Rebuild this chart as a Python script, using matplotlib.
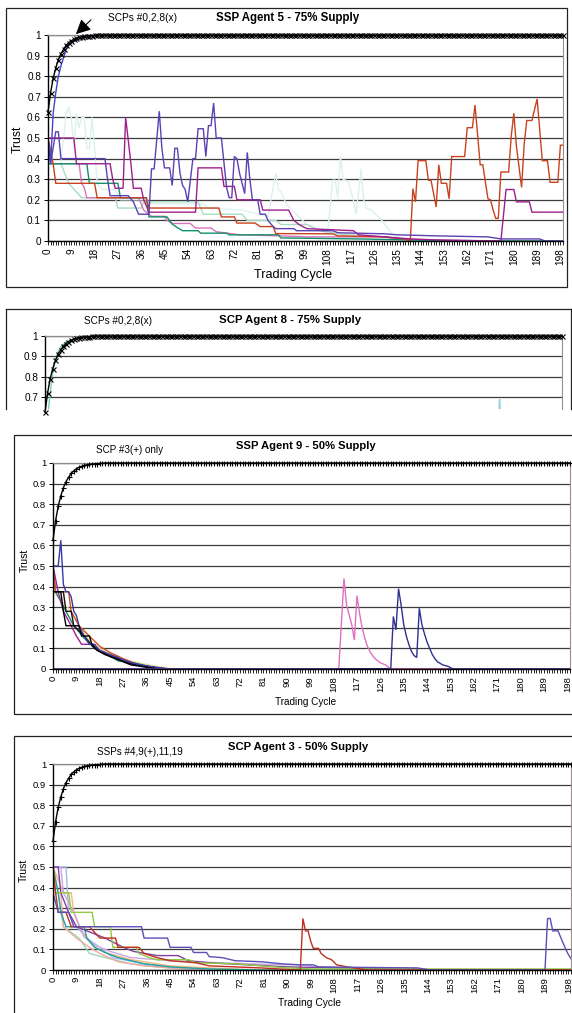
import numpy as np
import matplotlib
matplotlib.use("Agg")
import matplotlib.pyplot as plt
import matplotlib as mpl
from matplotlib.patches import Rectangle
from matplotlib.lines import Line2D
from matplotlib.ticker import MultipleLocator

mpl.rcParams['font.family'] = ['Liberation Sans', 'DejaVu Sans']

W, H = 572, 1013
N_CYCLES = 200
CYCLES = np.arange(N_CYCLES)

# trust curve of the SCPs / SSP that converge to 1 (first cycles, afterwards 1.0)
SCP_RISE = [0.625, 0.72, 0.79, 0.84, 0.88, 0.91, 0.93, 0.95, 0.962, 0.972,
            0.979, 0.984, 0.988, 0.991, 0.993, 0.995, 0.996, 0.997, 0.998, 0.999]
SCP_TRUST = SCP_RISE + [1.0] * (N_CYCLES - len(SCP_RISE))

##### Panel 1: SSP Agent 5 - 75% Supply  (cycle, trust)
P1_SPIKY = [(0, .5), (1, .375), (3, .53), (4, .53), (5, .4), (22, .4), (23, .3), (24, .22), (31, .22),
            (33, .19), (35, .13), (39, .13), (40, .35), (41, .35), (43, .63), (44, .45), (45, .355),
            (47, .355), (48, .27), (49, .45), (50, .45), (51, .33), (52, .27), (53, .25), (54, .19),
            (56, .4), (57, .4), (58, .545), (60, .545), (61, .41), (62, .56), (63, .56), (64, .67),
            (65, .5), (67, .5), (68, .38), (69, .26), (70, .21), (71, .21), (72, .41), (73, .4),
            (74, .33), (76, .23), (77, .43), (78, .3), (79, .2), (81, .2), (82, .13), (84, .13),
            (85, .1), (87, .07), (88, .06), (95, .06), (96, .05), (110, .05), (112, .04), (130, .035),
            (135, .03), (150, .025), (170, .02), (175, .01), (190, .01), (192, 0), (199, 0)]
P1_BLUE_RISE = [(0, .5), (1, .375), (2, .62), (3, .72), (4, .8), (5, .85), (6, .89), (7, .93),
                (8, .95), (9, .96), (10, .97), (12, .98), (15, .99), (20, 1.0), (199, 1.0)]
P1_MAGENTA = [(0, .5), (10, .5), (11, .375), (24, .375), (25, .3), (26, .256), (29, .256), (30, .6),
              (32, .38), (33, .256), (36, .256), (37, .2), (39, .14), (57, .14), (58, .355), (67, .355),
              (68, .265), (72, .265), (73, .2), (82, .2), (83, .15), (93, .15), (95, .1), (97, .08),
              (100, .06), (118, .05), (120, .03), (140, .01), (150, .005), (175, 0), (177, .25),
              (180, .25), (181, .19), (186, .19), (187, .14), (199, .14)]
P1_RED = [(0, .5), (2, .375), (3, .28), (18, .28), (19, .21), (38, .21), (39, .16), (66, .16), (67, .117),
          (72, .117), (73, .087), (80, .087), (82, .07), (87, .07), (88, .036), (110, .035), (112, .025),
          (130, .02), (138, .01), (140, 0), (141, .254), (142, .19), (143, .39), (146, .39), (147, .295),
          (148, .295), (150, .165), (151, .37), (152, .28), (154, .28), (155, .205), (156, .41),
          (161, .41), (162, .55), (164, .55), (165, .66), (167, .37), (168, .37), (170, .205), (171, .2),
          (172, .15), (173, .11), (174, .11), (175, .335), (178, .335), (179, .51), (180, .62),
          (181, .46), (183, .26), (184, .47), (185, .585), (187, .585), (189, .69), (191, .39),
          (193, .39), (194, .285), (197, .285), (198, .465), (199, .465)]
P1_GREEN = [(0, .375), (15, .375), (16, .28), (27, .28), (28, .21), (38, .21), (39, .117), (46, .117),
            (48, .082), (50, .065), (52, .05), (58, .05), (59, .038), (69, .038), (70, .03), (89, .03),
            (90, .015), (120, .01), (140, .005), (160, 0), (199, 0)]
P1_PINK = [(0, .375), (12, .375), (13, .28), (14, .26), (15, .21), (35, .21), (37, .15), (38, .14),
           (40, .12), (45, .12), (46, .1), (48, .085), (55, .085), (57, .063), (63, .063), (65, .045),
           (70, .037), (74, .03), (90, .025), (100, .02), (130, .02), (135, .01), (150, .005), (170, 0),
           (199, 0)]
P1_MINT = [(0, .375), (5, .375), (8, .28), (13, .21), (26, .21), (27, .16), (36, .16), (37, .19),
           (58, .19), (60, .13), (75, .13), (77, .1), (88, .1), (90, .08), (100, .08), (105, .05),
           (115, .03), (130, .02), (140, 0), (199, 0)]
P1_PALE = [(0, .375), (5, .375), (6, .5), (7, .62), (8, .65), (9, .6), (10, .45), (11, .62), (12, .55),
           (13, .6), (14, .6), (15, .45), (16, .45), (17, .6), (18, .45), (19, .28), (21, .25), (26, .25),
           (28, .2), (38, .2), (40, .18), (60, .18), (62, .16), (75, .15), (85, .12), (88, .33), (89, .25),
           (90, .24), (92, .18), (100, .08), (108, .035), (110, .295), (111, .295), (112, .21), (113, .415),
           (114, .3), (116, .29), (118, .2), (119, .13), (121, .35), (122, .2), (123, .16), (125, .15),
           (129, .1), (132, .05), (134, .025), (137, 0), (199, 0)]

##### Panel 2: SCP Agent 8 - 75% Supply (lower part cut off)
P2_TEAL = [(0, .5), (1, .6), (2, .72), (3, .82), (4, .88), (5, .92), (6, .945), (8, .97), (10, .98),
           (15, .995), (20, 1.0), (199, 1.0)]
P2_CYAN = [(173, 0), (175, .69), (177, 0)]

##### Panel 3: SSP Agent 9 - 50% Supply
P3_BLUE = [(0, .5), (2, .5), (3, .625), (4, .41), (5, .375), (6, .375), (7, .35), (8, .28), (9, .26),
           (10, .21), (12, .16), (14, .12), (16, .12), (18, .09), (20, .08), (24, .06), (28, .04),
           (32, .025), (36, .015), (40, .008), (45, 0), (199, 0)]
P3_BLACK_A = [(0, .375), (3, .375), (4, .28), (5, .21), (10, .21), (11, .16), (14, .16), (15, .12),
              (17, .09), (22, .06), (26, .04), (30, .02), (35, .01), (40, 0), (199, 0)]
P3_BLACK_B = [(0, .375), (4, .375), (5, .28), (7, .28), (8, .21), (12, .16), (16, .1), (20, .07),
              (25, .05), (30, .025), (38, .008), (42, 0), (199, 0)]
P3_RED = [(0, .5), (1, .375), (6, .375), (7, .28), (10, .21), (14, .16), (18, .11), (22, .08),
          (27, .05), (33, .02), (40, .005), (44, 0), (199, 0)]
P3_GREEN = [(0, .5), (1, .375), (5, .28), (8, .21), (12, .15), (16, .1), (20, .08), (25, .04),
            (31, .03), (38, .01), (42, 0), (199, 0)]
P3_PURPLE = [(0, .5), (2, .375), (4, .28), (7, .21), (9, .16), (11, .12), (15, .12), (19, .08),
             (24, .06), (29, .03), (35, .015), (44, 0), (199, 0)]
P3_YELLOW = [(0, .375), (7, .28), (10, .21), (15, .12), (21, .08), (29, .04), (37, .02), (46, 0),
             (199, 0)]
P3_PINK = [(0, 0), (110, 0), (112, .44), (113, .31), (115, .215), (116, .14), (117, .356), (118, .27),
           (119, .2), (120, .15), (121, .11), (122, .085), (123, .065), (124, .05), (126, .03),
           (128, .02), (130, 0), (199, 0)]
P3_NAVY = [(0, 0), (130, 0), (131, .255), (132, .19), (133, .39), (134, .31), (135, .215), (136, .16),
           (137, .118), (138, .085), (139, .065), (140, .056), (141, .295), (142, .215), (143, .17),
           (144, .13), (145, .1), (146, .07), (147, .05), (148, .035), (150, .02), (152, .013),
           (154, 0), (199, 0)]

##### Panel 4: SCP Agent 3 - 50% Supply
P4_BLUE = [(0, .375), (2, .28), (6, .28), (8, .21), (34, .21), (35, .155), (44, .155), (45, .11),
           (53, .11), (54, .085), (59, .085), (60, .065), (65, .06), (70, .045), (80, .04), (88, .03),
           (95, .025), (100, .025), (102, .015), (140, .01), (145, 0), (189, 0), (190, .25), (191, .25),
           (192, .19), (194, .19), (195, .16), (196, .13), (197, .1), (198, .075), (199, .055)]
P4_RED = [(0, .5), (1, .375), (2, .28), (5, .28), (7, .21), (14, .21), (18, .155), (24, .155),
          (25, .11), (33, .11), (35, .08), (40, .06), (45, .045), (55, .035), (60, .02), (80, .01),
          (94, 0), (95, 0), (96, .25), (97, .19), (98, .19), (99, .14), (100, .105), (102, .105),
          (103, .08), (105, .06), (107, .05), (109, .025), (113, .015), (116, .01), (120, 0), (199, 0)]
P4_LIME = [(0, .5), (1, .375), (6, .375), (7, .28), (15, .28), (16, .21), (22, .21), (23, .11),
           (32, .11), (33, .08), (37, .06), (40, .05), (52, .05), (55, .035), (70, .03), (90, .01),
           (100, .005), (199, .005)]
P4_TEAL = [(0, .5), (2, .375), (3, .28), (5, .21), (12, .21), (13, .155), (16, .11), (20, .085),
           (25, .06), (35, .03), (45, .015), (60, .005), (80, 0), (199, 0)]
P4_PEACH = [(0, .5), (4, .375), (7, .375), (8, .28), (10, .21), (13, .155), (16, .11), (20, .085),
            (30, .05), (45, .02), (60, .01), (80, 0), (199, 0)]
P4_LIGHTBLUE = [(0, .5), (5, .5), (6, .28), (9, .21), (13, .155), (18, .11), (23, .06), (35, .03),
                (50, .01), (70, 0), (199, 0)]
P4_LAVENDER = [(0, .5), (3, .5), (4, .375), (8, .28), (12, .16), (16, .12), (22, .09), (30, .06),
               (45, .045), (55, .04), (65, .035), (75, .03), (90, .025), (98, .025), (100, .015),
               (110, .012), (140, .008), (145, 0), (199, 0)]
P4_SALMON = [(0, .375), (3, .375), (4, .21), (9, .155), (14, .11), (18, .08), (25, .04), (35, .02),
             (50, .005), (60, 0), (199, 0)]
P4_MINT = [(0, .5), (2, .375), (4, .21), (10, .155), (14, .08), (20, .06), (30, .03), (40, .015),
           (55, 0), (199, 0)]
P4_PURPLE = [(0, .5), (2, .5), (3, .375), (6, .28), (9, .21), (20, .155), (27, .11), (31, .09),
             (40, .07), (48, .07), (52, .045), (60, .035), (75, .025), (90, .015), (120, .008),
             (140, 0), (199, 0)]

Y_TICKS = [0, 0.1, 0.2, 0.3, 0.4, 0.5, 0.6, 0.7, 0.8, 0.9, 1.0]
Y_LABELS = ["0", "0.1", "0.2", "0.3", "0.4", "0.5", "0.6", "0.7", "0.8", "0.9", "1"]


def add_axes_px(fig, left, top, right, bottom):
    return fig.add_axes([left / W, 1 - bottom / H, (right - left) / W, (bottom - top) / H])


def fig_text(fig, x, y, s, **kw):
    fig.text(x / W, 1 - y / H, s, ha='center', va='center', **kw)


def box_px(fig, left, top, right, bottom):
    fig.add_artist(Rectangle((left / W, 1 - bottom / H), (right - left) / W, (bottom - top) / H,
                             transform=fig.transFigure, fill=False, ec='#222222', lw=0.9))


def style_axes(ax, tick_size=7, x_axis=True):
    ax.set_xlim(0, N_CYCLES - 1)
    ax.set_ylim(0, 1)
    ax.set_yticks(Y_TICKS)
    ax.set_yticklabels(Y_LABELS, fontsize=tick_size)
    ax.yaxis.grid(True, color='#3c3c3c', lw=0.9)
    ax.set_axisbelow(True)
    ax.tick_params(axis='y', length=3, width=0.7, pad=2)
    ax.spines['left'].set_color('k')
    ax.spines['left'].set_linewidth(1.0)
    ax.spines['top'].set_color('#8c8c8c')
    ax.spines['top'].set_linewidth(0.9)
    ax.spines['right'].set_color('#a08c8c')
    ax.spines['right'].set_linewidth(0.8)
    if x_axis:
        ax.set_xticks(range(0, N_CYCLES, 9))
        ax.set_xticklabels([str(c) for c in range(0, N_CYCLES, 9)], rotation=90, fontsize=tick_size)
        ax.xaxis.set_minor_locator(MultipleLocator(1))
        ax.tick_params(axis='x', which='both', length=3, width=0.6, direction='out', pad=2)
        ax.spines['bottom'].set_color('k')
        ax.spines['bottom'].set_linewidth(1.0)
    else:
        ax.set_xticks([])
        ax.spines['bottom'].set_visible(False)


def plot_series(ax, series, color, lw=1.0):
    ax.plot(*zip(*series), color=color, lw=lw, solid_joinstyle='miter')


def plot_scp(ax, marker):
    ax.plot(CYCLES, SCP_TRUST, color='k', lw=1.0, marker=marker, ms=3.6, mew=0.8,
            clip_on=False, zorder=6)


fig = plt.figure(figsize=(W / 100, H / 100), dpi=100)

#### Panel 1
box_px(fig, 6, 8, 567, 287)
ax1 = add_axes_px(fig, 48, 35, 563, 241)
style_axes(ax1, tick_size=7.2)
for ser, col in [(P1_PALE, '#dcf1ed'), (P1_MINT, '#a8dcc2'), (P1_PINK, '#d874bc'),
                 (P1_GREEN, '#10906c'), (P1_RED, '#c8421e'), (P1_MAGENTA, '#a01e8c'),
                 (P1_SPIKY, '#5c40b4'), (P1_BLUE_RISE, '#4444c8')]:
    plot_series(ax1, ser, col)
plot_scp(ax1, 'x')
ax1.annotate('', xy=(10, 0.995), xycoords='data', xytext=(93 / W, 1 - 18 / H),
             textcoords='figure fraction',
             arrowprops=dict(arrowstyle='-|>', color='k', lw=0.8, mutation_scale=22))
fig_text(fig, 142, 18, "SCPs #0,2,8(x)", fontsize=7.3)
fig_text(fig, 288, 18, "SSP Agent 5 - 75% Supply", fontsize=8.3, fontweight='bold')
fig_text(fig, 17.5, 139, "Trust", fontsize=8.8, rotation=90)
fig_text(fig, 293, 275, "Trading Cycle", fontsize=9.2)

#### Panel 2 (cut off below 0.64)
for seg in [((6, 6), (409, 309)), ((6, 571), (309, 309)), ((571, 571), (309, 409))]:
    fig.add_artist(Line2D([x / W for x in seg[0]], [1 - y / H for y in seg[1]],
                          transform=fig.transFigure, color='#222222', lw=0.9))
ax2 = add_axes_px(fig, 45, 336, 562, 409)
style_axes(ax2, tick_size=7.2, x_axis=False)
ax2.set_ylim(0.641, 1)
plot_series(ax2, P2_CYAN, '#9ad4e4', lw=1.4)
plot_series(ax2, P2_TEAL, '#7cd0c0')
plot_scp(ax2, 'x')
fig_text(fig, 118, 321, "SCPs #0,2,8(x)", fontsize=7.2)
fig_text(fig, 290, 320, "SCP Agent 8 - 75% Supply", fontsize=8.2, fontweight='bold')

#### Panel 3
box_px(fig, 14, 435, 580, 714)
ax3 = add_axes_px(fig, 53, 463, 570, 669)
style_axes(ax3, tick_size=6.8)
for ser, col in [(P3_YELLOW, '#e6dfa0'), (P3_GREEN, '#109070'), (P3_RED, '#d05020'),
                 (P3_PURPLE, '#a02090'), (P3_BLACK_B, '#111111'), (P3_BLUE, '#3838a8'),
                 (P3_BLACK_A, '#000000'), (P3_PINK, '#e070c0'), (P3_NAVY, '#303090')]:
    plot_series(ax3, ser, col)
plot_scp(ax3, '+')
fig_text(fig, 130, 450, "SCP #3(+) only", fontsize=7.1)
fig_text(fig, 306, 446, "SSP Agent 9 - 50% Supply", fontsize=8.1, fontweight='bold')
fig_text(fig, 25, 560, "Trust", fontsize=7.5, rotation=90)
fig_text(fig, 306, 702, "Trading Cycle", fontsize=7.2)

#### Panel 4
box_px(fig, 14, 736, 580, 1030)
ax4 = add_axes_px(fig, 53, 764, 571, 970)
style_axes(ax4, tick_size=6.8)
for ser, col in [(P4_MINT, '#98d8b8'), (P4_SALMON, '#f0a8a0'), (P4_LIGHTBLUE, '#a8b8ec'),
                 (P4_PEACH, '#f0b878'), (P4_LAVENDER, '#c8a8e4'), (P4_TEAL, '#20a0a0'),
                 (P4_PURPLE, '#8040a0'), (P4_LIME, '#90c840'), (P4_RED, '#c03020'),
                 (P4_BLUE, '#5a50b8')]:
    plot_series(ax4, ser, col)
plot_scp(ax4, '+')
fig_text(fig, 140, 752, "SSPs #4,9(+),11,19", fontsize=7.1)
fig_text(fig, 298, 747, "SCP Agent 3 - 50% Supply", fontsize=8.1, fontweight='bold')
fig_text(fig, 24, 870, "Trust", fontsize=7.5, rotation=90)
fig_text(fig, 310, 1003, "Trading Cycle", fontsize=7.4)

fig.savefig("out.png", dpi=100)
